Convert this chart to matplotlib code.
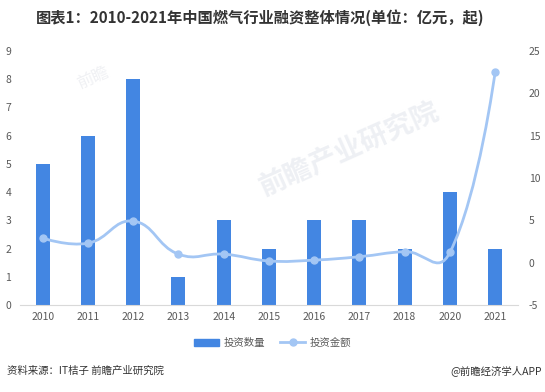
import numpy as np
import matplotlib
matplotlib.use("Agg")
import matplotlib.pyplot as plt
from matplotlib.path import Path
from matplotlib.patches import PathPatch, Patch
from matplotlib.lines import Line2D

plt.rcParams['font.family'] = ['Noto Sans CJK SC', 'DejaVu Sans']
plt.rcParams['axes.unicode_minus'] = False

years = ['2010', '2011', '2012', '2013', '2014', '2015', '2016', '2017', '2018', '2020', '2021']
counts = [5, 6, 8, 1, 3, 2, 3, 3, 2, 4, 2]          # 投资数量
amounts = [2.9, 2.3, 4.9, 1.0, 1.0, 0.2, 0.3, 0.7, 1.3, 1.2, 22.5]  # 投资金额(亿元)

bar_c = '#4386e2'
line_c = '#a3c6f4'
grey = '#595959'

fig = plt.figure(figsize=(5.45, 3.92), dpi=100)
ax = fig.add_axes([0.037, 0.222, 0.913, 0.648])
ax2 = ax.twinx()

x = np.arange(len(years))
ax.bar(x, counts, width=0.31, color=bar_c, zorder=2)
ax.set_xlim(-0.5, len(years) - 0.5)
ax.set_ylim(0, 9)
ax.set_yticks(range(0, 10))
ax2.set_ylim(-5, 25)
ax2.set_yticks(range(-5, 26, 5))
ax.set_xticks(x)
ax.set_xticklabels(years)

# smooth curve, control points weighted by neighbour distances (in pixel scale)
sx, sy = 45.3, 8.47
P = np.column_stack([x * sx, np.array(amounts) * sy])
n = len(P)
cp_in = P.copy()
cp_out = P.copy()
for i in range(1, n - 1):
    v = P[i + 1] - P[i - 1]
    d0 = np.hypot(*(P[i] - P[i - 1]))
    d1 = np.hypot(*(P[i + 1] - P[i]))
    r = 0.65 * d1 / (d0 + d1) + 0.35 * 0.5
    cp_in[i] = P[i] - v * 0.45 * (1 - r)
    cp_out[i] = P[i] + v * 0.45 * r
verts = [P[0]]
codes = [Path.MOVETO]
for i in range(n - 1):
    verts += [cp_out[i], cp_in[i + 1], P[i + 1]]
    codes += [Path.CURVE4] * 3
verts = np.array(verts) / np.array([sx, sy])
ax2.add_patch(PathPatch(Path(verts, codes), fill=False, edgecolor=line_c, lw=2.0, zorder=3))
ax2.plot(x, amounts, 'o', color=line_c, ms=5, zorder=4)

for a in (ax, ax2):
    for s in a.spines.values():
        s.set_visible(False)
    a.tick_params(length=0, colors=grey, labelsize=7.5)
ax.spines['bottom'].set_visible(True)
ax.spines['bottom'].set_color('#d9d9d9')
ax.tick_params(axis='y', pad=-2)
ax.tick_params(axis='x', pad=5)
for lab in ax.get_yticklabels():
    lab.set_horizontalalignment('left')
    lab.set_x(-0.035)
ax2.tick_params(axis='y', pad=8)

# watermark
fig.text(0.64, 0.62, '前瞻产业研究院', fontsize=20, color='#eef0f4', rotation=24,
         ha='center', va='center', fontweight='bold', zorder=0)
fig.text(0.17, 0.80, '前瞻', fontsize=12, color='#f0f1f4', rotation=24,
         ha='center', va='center', zorder=0)

fig.text(0.478, 0.954, '图表1：2010-2021年中国燃气行业融资整体情况(单位：亿元，起)',
         fontsize=11, fontweight='bold', color='#333333', ha='center', va='center')

handles = [Patch(color=bar_c), Line2D([], [], color=line_c, lw=2.0, marker='o', ms=5)]
fig.legend(handles, ['投资数量', '投资金额'], loc='center', bbox_to_anchor=(0.50, 0.125),
           ncol=2, frameon=False, fontsize=7.5, labelcolor=grey, handlelength=2.4,
           columnspacing=1.5, handletextpad=0.4)

fig.text(0.013, 0.055, '资料来源：IT桔子 前瞻产业研究院', fontsize=7.5, color='#333333',
         ha='left', va='center')
fig.text(0.995, 0.055, '@前瞻经济学人APP', fontsize=7.5, color='#333333',
         ha='right', va='center')

fig.savefig('out.png', dpi=100)
